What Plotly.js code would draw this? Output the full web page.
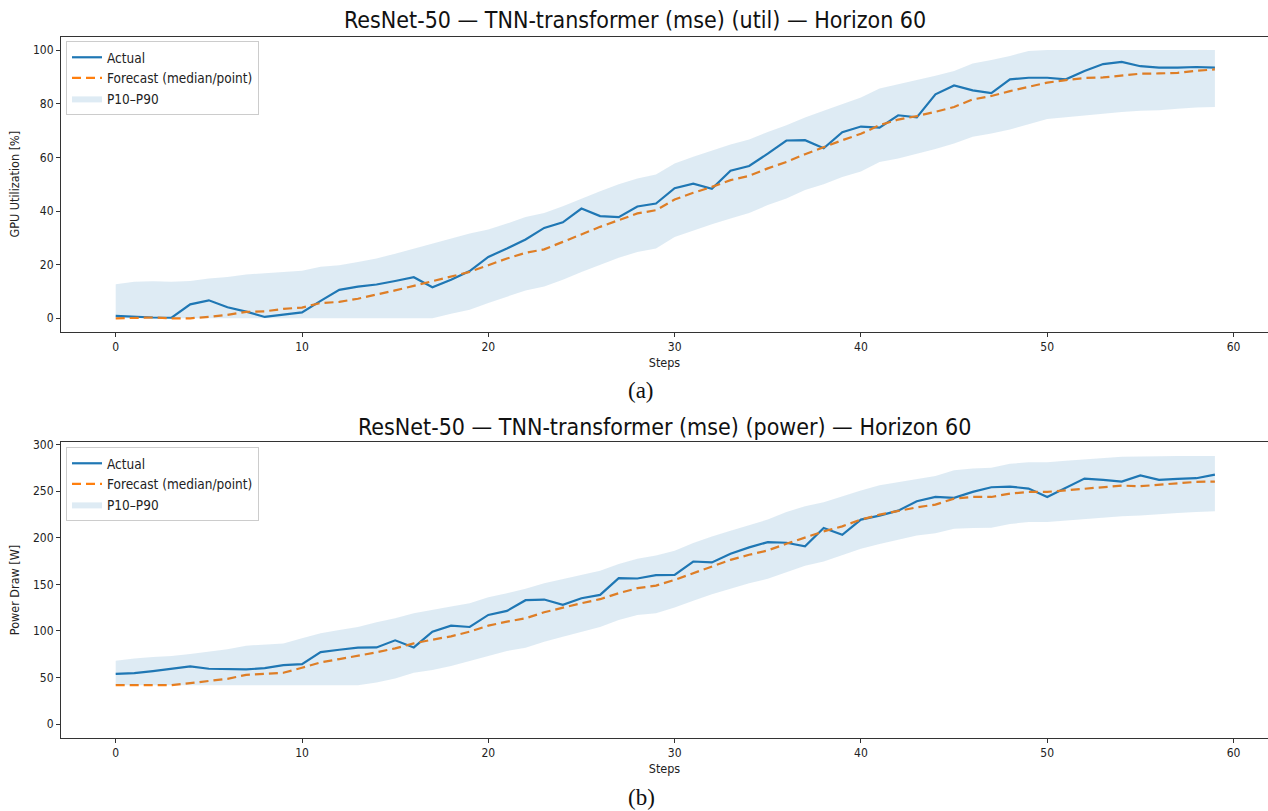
<!DOCTYPE html>
<html>
<head>
<meta charset="utf-8">
<script src="https://cdn.plot.ly/plotly-3.0.1.min.js"></script>
<style>
html,body{margin:0;padding:0;background:#fff;}
#chart{width:1268px;height:811px;}
</style>
</head>
<body>
<div id="chart"></div>
<script>
const steps = [0,1,2,3,4,5,6,7,8,9,10,11,12,13,14,15,16,17,18,19,20,21,22,23,24,25,26,27,28,29,30,31,32,33,34,35,36,37,38,39,40,41,42,43,44,45,46,47,48,49,50,51,52,53,54,55,56,57,58,59];

const utilActual = [0.9,0.5,0.3,0.2,5.2,6.7,4.1,2.5,0.5,1.4,2.2,6.5,10.6,11.8,12.6,13.9,15.3,11.6,14.4,17.6,22.9,26.0,29.4,33.7,35.8,40.9,38.1,37.7,41.7,42.8,48.5,50.2,48.3,55.0,56.8,61.4,66.3,66.4,63.4,69.4,71.5,71.1,75.7,74.9,83.5,86.8,85.0,84.0,89.1,89.7,89.7,89.1,92.2,94.8,95.6,94.0,93.5,93.5,93.7,93.5];
const utilForecast = [0,0.1,0.3,0,0,0.5,1.3,2.4,2.6,3.5,4.0,5.7,6.1,7.3,8.8,10.4,12.1,13.8,15.7,17.3,19.8,22.3,24.4,25.7,28.5,31.3,34.1,36.6,39.1,40.3,44.3,46.8,49.0,51.5,53.1,55.9,58.3,61.2,63.9,66.4,68.8,72.0,74.1,75.4,77.0,78.8,81.6,82.9,84.7,86.3,87.9,88.8,89.6,89.8,90.4,91.2,91.3,91.5,92.3,92.8];
const utilP90 = [12.7,13.6,13.8,13.6,13.9,14.8,15.4,16.3,16.8,17.3,17.7,19.2,19.8,21.0,22.3,24.1,26.0,27.9,29.7,31.6,33.1,35.3,37.8,39.3,41.8,44.7,47.4,50.0,52.1,53.6,57.7,60.2,62.4,64.8,66.7,69.5,72.0,74.9,77.4,79.9,82.3,85.7,87.2,88.8,90.4,92.2,95.0,96.3,97.8,99.7,100,100,100,100,100,100,100,100,100,100];
const utilP10 = [0,0,0,0,0,0,0,0,0,0,0,0,0,0,0,0,0,0,1.7,3.2,5.7,8.0,10.4,11.9,14.4,17.3,20.1,22.6,24.7,26.0,30.3,32.8,35.1,37.2,39.3,42.2,44.7,47.8,50.0,52.7,54.7,58.3,59.6,61.4,63.1,65.2,67.7,68.9,70.4,72.4,74.3,75.0,75.7,76.4,76.9,77.4,77.6,78.1,78.6,78.8];

const powerActual = [54.1,54.8,57.0,59.9,62.0,59.5,58.8,58.8,60.2,63.4,64.5,77.4,79.9,82.1,82.4,90.0,82.4,99.3,105.7,104.3,117.2,121.5,133.0,133.7,128.0,135.1,138.7,156.6,156.3,159.9,160.2,174.5,173.5,182.8,189.6,195.3,194.6,190.7,210.4,203.2,219.4,223.7,229.0,239.1,243.7,242.7,249.1,254.1,254.8,252.7,243.7,253.4,263.4,262.0,260.2,266.7,262.0,263.1,263.8,267.7];
const powerForecast = [41.9,41.9,41.9,41.9,44.1,46.6,48.7,53.0,54.1,55.2,60.6,66.3,69.9,73.1,77.1,81.4,86.7,90.7,94.3,99.3,105.7,110.0,113.6,120.1,125.1,129.8,134.1,140.5,145.9,148.7,154.8,162.0,169.2,176.3,181.7,186.4,193.5,200.4,206.8,212.2,219.4,224.7,229.0,232.6,235.5,241.9,243.7,243.7,247.3,249.1,249.1,250.9,252.7,254.1,255.9,255.2,257.0,258.8,259.9,260.2];
const powerP90 = [68.1,70.6,72.0,73.1,75.3,77.8,80.3,84.2,85.7,86.7,92.1,97.5,101.1,104.3,109.3,113.6,119.0,122.9,126.2,129.8,136.2,140.5,145.2,151.3,155.9,160.2,164.5,171.7,177.4,181.0,186.0,194.3,201.4,207.5,213.2,219.4,227.6,233.7,238.0,244.4,250.5,256.3,259.5,263.1,266.3,272.4,274.2,274.9,279.2,281.0,281.0,282.4,283.9,285.7,286.7,287.1,287.5,287.5,287.5,287.5];
const powerP10 = [41.9,41.9,41.9,41.9,41.9,41.9,41.9,41.9,41.9,41.9,41.9,41.9,41.9,41.9,44.8,49.1,55.2,58.1,62.4,67.7,72.4,78.5,82.1,88.5,93.9,99.3,104.3,111.8,117.2,119.0,125.1,132.3,139.4,145.2,151.3,155.9,163.1,169.9,174.5,181.0,188.2,193.2,197.8,202.5,204.7,209.7,210.4,210.8,214.7,216.9,216.9,218.3,220.4,221.8,222.9,223.7,225.5,226.5,227.6,228.3];

const xTicks = [0,10,20,30,40,50,60];
const utilTicks = [0,20,40,60,80,100];
const powerTicks = [0,50,100,150,200,250,300];

const titleUtil = "ResNet-50 — TNN-transformer (mse) (util) — Horizon 60";
const titlePower = "ResNet-50 — TNN-transformer (mse) (power) — Horizon 60";
const labelUtil = "GPU Utilization [%]";
const labelPower = "Power Draw [W]";
const labelSteps = "Steps";
const captionA = "(a)";
const captionB = "(b)";

const FONT = "DejaVu Sans Condensed, DejaVu Sans, sans-serif";
const BLUE = "#1f77b4", ORANGE = "#ff7f0e", BAND = "rgba(31,119,180,0.15)";

function group(xa, ya, leg, actual, fc, p10, p90) {
  return [
    {x: steps, y: actual, xaxis: xa, yaxis: ya, mode: "lines", line: {color: BLUE, width: 2.2}, name: "Actual", legend: leg},
    {x: steps, y: fc, xaxis: xa, yaxis: ya, mode: "lines", line: {color: ORANGE, width: 2.2, dash: "9px,5px"}, name: "Forecast (median/point)", legend: leg},
    {x: steps, y: p10, xaxis: xa, yaxis: ya, mode: "lines", line: {width: 0, color: BAND}, showlegend: false, legend: leg, hoverinfo: "skip"},
    {x: steps, y: p90, xaxis: xa, yaxis: ya, mode: "lines", line: {width: 0, color: BAND}, fill: "tonexty", fillcolor: BAND, name: "P10–P90", legend: leg}
  ];
}

const data = [].concat(
  group("x", "y", "legend", utilActual, utilForecast, utilP10, utilP90),
  group("x2", "y2", "legend2", powerActual, powerForecast, powerP10, powerP90)
);

const H = 811;
const dom = (top, bottom) => [1 - bottom / H, 1 - top / H];

const axisCommon = {
  showline: true, mirror: true, linecolor: "#333", linewidth: 1,
  ticks: "outside", ticklen: 4, tickcolor: "#333", tickwidth: 1,
  showgrid: false, zeroline: false,
  tickfont: {family: FONT, size: 12, color: "#222"}
};
const xRange = [-2.936, 61.85];

const legendCommon = {
  xanchor: "left", yanchor: "top", bgcolor: "rgba(255,255,255,0.85)",
  bordercolor: "#cccccc", borderwidth: 1, traceorder: "normal",
  font: {family: FONT, size: 13.5, color: "#222"},
  tracegroupgap: 0, itemwidth: 30
};

const layout = {
  width: 1268, height: 811,
  margin: {l: 61, r: 0, t: 0, b: 0},
  paper_bgcolor: "#fff", plot_bgcolor: "#fff",
  showlegend: true,
  xaxis: Object.assign({}, axisCommon, {domain: [0, 1], anchor: "y", range: xRange, tickvals: xTicks,
    title: {text: labelSteps, font: {family: FONT, size: 12.5, color: "#222"}, standoff: 5}}),
  yaxis: Object.assign({}, axisCommon, {domain: dom(36.7, 331.7), anchor: "x", range: [-5, 105], tickvals: utilTicks,
    title: {text: labelUtil, font: {family: FONT, size: 12.5, color: "#222"}, standoff: 10}}),
  xaxis2: Object.assign({}, axisCommon, {domain: [0, 1], anchor: "y2", range: xRange, tickvals: xTicks,
    title: {text: labelSteps, font: {family: FONT, size: 12.5, color: "#222"}, standoff: 5}}),
  yaxis2: Object.assign({}, axisCommon, {domain: dom(442.3, 737.7), anchor: "x2", range: [-14.4, 302.3], tickvals: powerTicks,
    title: {text: labelPower, font: {family: FONT, size: 12.5, color: "#222"}, standoff: 10}}),
  legend: Object.assign({}, legendCommon, {x: 5 / 1207, y: 1 - 41 / H}),
  legend2: Object.assign({}, legendCommon, {x: 5 / 1207, y: 1 - 447 / H}),
  annotations: [
    {text: titleUtil, xref: "paper", yref: "paper", x: (634.5 - 61) / 1207, y: 1 - 20 / H, xanchor: "center", yanchor: "middle", showarrow: false, font: {family: FONT, size: 23, color: "#111"}},
    {text: titlePower, xref: "paper", yref: "paper", x: (664 - 61) / 1207, y: 1 - 427 / H, xanchor: "center", yanchor: "middle", showarrow: false, font: {family: FONT, size: 23, color: "#111"}},
    {text: captionA, xref: "paper", yref: "paper", x: (641 - 61) / 1207, y: 1 - 391 / H, xanchor: "center", yanchor: "middle", showarrow: false, font: {family: "Liberation Serif, DejaVu Serif, serif", size: 23, color: "#111"}},
    {text: captionB, xref: "paper", yref: "paper", x: (641 - 61) / 1207, y: 1 - 797 / H, xanchor: "center", yanchor: "middle", showarrow: false, font: {family: "Liberation Serif, DejaVu Serif, serif", size: 23, color: "#111"}}
  ]
};

Plotly.newPlot("chart", data, layout, {staticPlot: true, displayModeBar: false});
</script>
</body>
</html>
